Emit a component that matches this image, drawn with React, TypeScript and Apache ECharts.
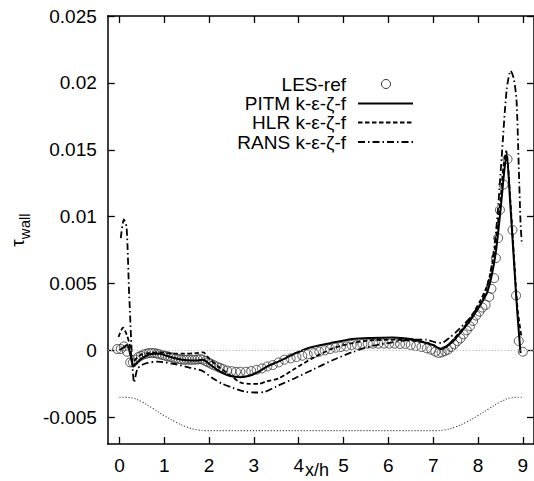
import React, { useEffect, useRef } from 'react';
import * as echarts from 'echarts';

const xTicks = [0, 1, 2, 3, 4, 5, 6, 7, 8, 9];
const yTicks = [-0.005, 0, 0.005, 0.01, 0.015, 0.02, 0.025];
const yTickLabels = ['-0.005', '0', '0.005', '0.01', '0.015', '0.02', '0.025'];

const lesRef: number[][] = [
  [-0.05, 0.0001], [0.03, 0.0001], [0.1, 0.0003], [0.17, -0.0001], [0.24, -0.0009], [0.3, -0.0009],
  [0.36, -0.0007], [0.42, -0.0005], [0.48, -0.0004], [0.54, -0.0003], [0.6, -0.00025], [0.66, -0.0002],
  [0.72, -0.0002], [0.78, -0.0002], [0.84, -0.00025], [0.9, -0.0003], [0.96, -0.00035], [1.02, -0.0004],
  [1.08, -0.00045], [1.14, -0.0005], [1.2, -0.00055], [1.26, -0.0006], [1.32, -0.00065], [1.38, -0.00068],
  [1.44, -0.0007], [1.5, -0.0007], [1.56, -0.0007], [1.62, -0.0007], [1.68, -0.0007], [1.74, -0.00068],
  [1.8, -0.00065], [1.86, -0.0007], [1.92, -0.0008], [1.98, -0.0009], [2.04, -0.001], [2.1, -0.0011],
  [2.17, -0.0012], [2.24, -0.0013], [2.31, -0.0014], [2.4, -0.0015], [2.5, -0.00155], [2.6, -0.0016],
  [2.7, -0.0016], [2.82, -0.0016], [2.94, -0.00155], [3.06, -0.00145], [3.18, -0.00135], [3.3, -0.0012],
  [3.42, -0.0011], [3.55, -0.0009], [3.68, -0.0007], [3.82, -0.0006], [3.95, -0.0005], [4.08, -0.0004],
  [4.2, -0.0003], [4.34, -0.0002], [4.46, -0.0001], [4.58, 0.0], [4.7, 0.0001], [4.82, 0.0002],
  [4.94, 0.00025], [5.06, 0.0003], [5.18, 0.0004], [5.3, 0.00042], [5.42, 0.00048], [5.54, 0.0005],
  [5.66, 0.0005], [5.78, 0.0005], [5.9, 0.0005], [6.02, 0.0005], [6.14, 0.0005], [6.26, 0.00048],
  [6.38, 0.00048], [6.5, 0.0004], [6.62, 0.00032], [6.74, 0.00025], [6.86, 0.00015], [6.96, 0.00005],
  [7.05, -0.0001], [7.12, -0.0002], [7.19, -0.00015], [7.26, -0.00005], [7.33, 0.00005], [7.4, 0.00025],
  [7.47, 0.00045], [7.54, 0.0007], [7.61, 0.0009], [7.68, 0.0012], [7.75, 0.0015], [7.82, 0.0018],
  [7.89, 0.0022], [7.96, 0.0026], [8.03, 0.0029], [8.1, 0.0032], [8.17, 0.0034], [8.25, 0.004],
  [8.3, 0.0046], [8.36, 0.0054], [8.4, 0.0069], [8.45, 0.0084], [8.49, 0.0105], [8.57, 0.0124],
  [8.66, 0.0143], [8.77, 0.009], [8.85, 0.0041], [8.91, 0.0007], [9.0, -0.0001],
];

const pitm: number[][] = [
  [0.0, 0.0], [0.08, 0.0002], [0.17, 0.0004], [0.25, -0.0004], [0.31, -0.0012], [0.4, -0.0009],
  [0.5, -0.0006], [0.6, -0.0004], [0.75, -0.00025], [0.9, -0.00025], [1.05, -0.0004], [1.2, -0.00055],
  [1.4, -0.0007], [1.6, -0.00075], [1.75, -0.00075], [1.87, -0.0007], [2.0, -0.001], [2.2, -0.0015],
  [2.45, -0.0019], [2.7, -0.002], [2.9, -0.0019], [3.1, -0.0016], [3.3, -0.0012], [3.5, -0.0009],
  [3.7, -0.0006], [3.9, -0.00025], [4.3, 0.00025], [4.8, 0.0006], [5.2, 0.00085], [5.6, 0.00093],
  [6.1, 0.00097], [6.5, 0.00085], [6.8, 0.0006], [7.0, 0.0004], [7.1, 0.0002], [7.18, 0.0001],
  [7.3, 0.0003], [7.45, 0.0007], [7.6, 0.0013], [7.75, 0.0019], [7.9, 0.0026], [8.05, 0.0034],
  [8.2, 0.0043], [8.3, 0.0055], [8.4, 0.0074], [8.5, 0.0104], [8.58, 0.0132], [8.64, 0.0147],
  [8.72, 0.011], [8.8, 0.0068], [8.88, 0.0027], [8.95, -0.0002],
];

const hlr: number[][] = [
  [-0.02, 0.001], [0.08, 0.0017], [0.16, 0.0012], [0.23, 0.0004], [0.3, -0.0009], [0.38, -0.0006],
  [0.5, -0.0003], [0.65, -0.0002], [0.9, -0.00015], [1.2, -0.00025], [1.45, -0.00025], [1.7, -0.0002],
  [1.87, -0.00015], [2.0, -0.0006], [2.2, -0.0012], [2.45, -0.0018], [2.7, -0.0024], [2.9, -0.0025],
  [3.1, -0.0025], [3.3, -0.0023], [3.55, -0.0021], [3.9, -0.0014], [4.3, -0.0006], [4.8, 0.0002],
  [5.2, 0.00055], [5.6, 0.00075], [6.1, 0.0008], [6.5, 0.00075], [6.8, 0.0006], [7.0, 0.0004],
  [7.1, 0.0002], [7.18, 0.0001], [7.3, 0.0003], [7.45, 0.0008], [7.6, 0.0014], [7.75, 0.002],
  [7.9, 0.0028], [8.05, 0.0037], [8.2, 0.0048], [8.3, 0.0061], [8.4, 0.0082], [8.5, 0.0112],
  [8.57, 0.0138], [8.63, 0.0149], [8.72, 0.0113], [8.8, 0.0072], [8.88, 0.0032], [8.97, 0.001],
];

const rans: number[][] = [
  [0.03, 0.0084], [0.1, 0.0098], [0.16, 0.0092], [0.22, 0.004], [0.33, -0.0024], [0.4, -0.0014],
  [0.5, -0.0011], [0.63, -0.00094], [0.85, -0.00084], [1.2, -0.001], [1.58, -0.0013], [1.83, -0.0015],
  [2.09, -0.0021], [2.3, -0.0025], [2.53, -0.0028], [2.82, -0.0031], [3.05, -0.00315], [3.25, -0.0031],
  [3.5, -0.0027], [3.9, -0.0021], [4.34, -0.0014], [4.78, -0.0007], [5.22, -0.0001], [5.66, 0.00035],
  [6.09, 0.0006], [6.53, 0.0008], [6.85, 0.0008], [7.05, 0.0006], [7.18, 0.00055], [7.35, 0.0009],
  [7.55, 0.0015], [7.84, 0.0025], [8.13, 0.004], [8.3, 0.0062], [8.42, 0.0095], [8.53, 0.0145],
  [8.64, 0.0195], [8.73, 0.0209], [8.8, 0.0203], [8.86, 0.0187], [8.91, 0.0137], [8.95, 0.0095],
  [8.98, 0.0079],
];

const hillProfile: number[][] = [
  [0, -0.0035], [0.25, -0.00354], [0.5, -0.00385], [0.75, -0.00435], [1.0, -0.00488], [1.25, -0.00535],
  [1.5, -0.00573], [1.75, -0.00595], [1.93, -0.006], [7.07, -0.006], [7.25, -0.00595], [7.5, -0.00573],
  [7.75, -0.00535], [8.0, -0.00488], [8.25, -0.00435], [8.5, -0.00385], [8.75, -0.00354], [9.0, -0.0035],
];

const seriesNames = ['LES-ref', 'PITM k-ε-ζ-f', 'HLR k-ε-ζ-f', 'RANS k-ε-ζ-f'];

const FONT = '"Liberation Sans", Arial, Helvetica, sans-serif';
const dashHLR = [4.5, 2.5];
const dashRANS = [7, 3, 1.5, 3];

export default function App() {
  const ref = useRef<HTMLDivElement>(null);
  useEffect(() => {
    const chart = echarts.init(ref.current!, null, { renderer: 'svg' });
    const axisLine = { show: true, onZero: false, lineStyle: { color: '#000', width: 1.5 } };
    const tick = { show: true, inside: true, length: 7, lineStyle: { color: '#000', width: 1.3 } };
    const xCommon = {
      type: 'value', min: -0.26, max: 9.25, splitLine: { show: false }, axisLine,
    };
    const yCommon = {
      type: 'value', min: -0.007, max: 0.025, splitLine: { show: false }, axisLine,
    };
    const legendRowsY = [84, 103.5, 122.5, 142];
    const legendTextRight = 346;
    const legendLine = [358, 413];
    const graphic: any[] = [];
    seriesNames.forEach((name, i) => {
      graphic.push({
        type: 'text', x: legendTextRight, y: legendRowsY[i],
        style: { text: name, fontSize: 19, fontFamily: FONT, fill: '#000', align: 'right', verticalAlign: 'middle' },
      });
    });
    graphic.push({ type: 'circle', shape: { cx: 386, cy: legendRowsY[0], r: 4.5 }, style: { fill: 'none', stroke: '#333', lineWidth: 1 } });
    graphic.push({ type: 'line', shape: { x1: legendLine[0], y1: legendRowsY[1], x2: legendLine[1], y2: legendRowsY[1] }, style: { stroke: '#000', lineWidth: 2 } });
    graphic.push({ type: 'line', shape: { x1: legendLine[0], y1: legendRowsY[2], x2: legendLine[1], y2: legendRowsY[2] }, style: { stroke: '#000', lineWidth: 1.8, lineDash: dashHLR } });
    graphic.push({ type: 'line', shape: { x1: legendLine[0], y1: legendRowsY[3], x2: legendLine[1], y2: legendRowsY[3] }, style: { stroke: '#000', lineWidth: 1.8, lineDash: dashRANS } });
    graphic.push({
      type: 'text', x: 317, y: 470,
      style: { text: 'x/h', fontSize: 18, fontFamily: FONT, fill: '#000', align: 'center', verticalAlign: 'middle' },
    });

    const option: any = {
      animation: false,
      backgroundColor: '#fff',
      grid: { left: 99, top: 16, width: 436, height: 428, containLabel: false },
      xAxis: [
        {
          ...xCommon, position: 'bottom',
          axisTick: { ...tick, customValues: xTicks },
          axisLabel: { customValues: xTicks, margin: 12, fontSize: 19, fontFamily: FONT, color: '#000' },
        },
        {
          ...xCommon, position: 'top',
          axisTick: { ...tick, customValues: xTicks },
          axisLabel: { show: false },
        },
      ],
      yAxis: [
        {
          ...yCommon, position: 'left',
          name: '{t|τ}{s|wall}',
          nameLocation: 'middle',
          nameRotate: 90,
          nameGap: 64,
          nameTextStyle: {
            rich: {
              t: { fontSize: 19, fontFamily: FONT, color: '#000', lineHeight: 20, verticalAlign: 'top' },
              s: { fontSize: 15, fontFamily: FONT, color: '#000', lineHeight: 15, padding: [9, 0, 0, 0], verticalAlign: 'top' },
            },
          },
          axisTick: { ...tick, customValues: yTicks },
          axisLabel: {
            customValues: yTicks, margin: 11, fontSize: 19, fontFamily: FONT, color: '#000',
            formatter: (v: number) => {
              const idx = yTicks.findIndex((t) => Math.abs(t - v) < 1e-9);
              return idx >= 0 ? yTickLabels[idx] : '';
            },
          },
        },
        {
          ...yCommon, position: 'right',
          axisTick: { ...tick, customValues: yTicks },
          axisLabel: { show: false },
        },
      ],
      graphic,
      series: [
        {
          name: 'geometry', type: 'line', data: hillProfile, showSymbol: false, smooth: 0.4,
          lineStyle: { color: '#444', width: 1.1, type: [1.2, 1.8] },
          markLine: {
            silent: true, symbol: ['none', 'none'], label: { show: false },
            lineStyle: { color: '#bbb', width: 1, type: [1.2, 2] },
            data: [{ yAxis: 0 }],
          },
          z: 1,
        },
        {
          name: seriesNames[0], type: 'scatter', data: lesRef, symbol: 'circle', symbolSize: 9,
          itemStyle: { color: 'transparent', borderColor: '#333', borderWidth: 1 }, z: 2,
        },
        {
          name: seriesNames[1], type: 'line', data: pitm, showSymbol: false, smooth: 0.25,
          lineStyle: { color: '#000', width: 2 }, z: 3,
        },
        {
          name: seriesNames[2], type: 'line', data: hlr, showSymbol: false, smooth: 0.25,
          lineStyle: { color: '#000', width: 1.8, type: dashHLR }, z: 3,
        },
        {
          name: seriesNames[3], type: 'line', data: rans, showSymbol: false, smooth: 0.25,
          lineStyle: { color: '#000', width: 1.8, type: dashRANS }, z: 3,
        },
      ],
    };
    chart.setOption(option);
    return () => chart.dispose();
  }, []);
  return (
    <div
      ref={ref}
      style={{ position: 'fixed', left: 0, top: 0, width: 534, height: 481, background: '#fff' }}
    />
  );
}
